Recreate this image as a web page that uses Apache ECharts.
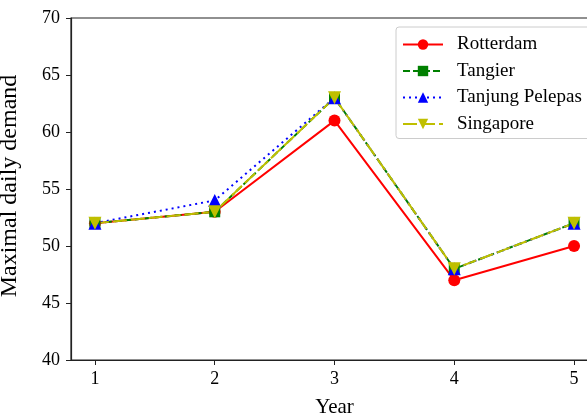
<!DOCTYPE html>
<html><head><meta charset="utf-8">
<script src="https://cdn.jsdelivr.net/npm/echarts@6/dist/echarts.min.js"></script>
<style>html,body{margin:0;padding:0;background:#fff}#c{width:587px;height:416px}</style>
</head><body><div id="c"></div>
<script>
const years = [1, 2, 3, 4, 5];
const rotterdam = [52, 53, 61, 47, 50];
const tangier = [52, 53, 63, 48, 52];
const tanjung = [52, 54, 63, 48, 52];
const singapore = [52, 53, 63, 48, 52];
const yTicks = [40, 45, 50, 55, 60, 65, 70];

const font = 'Liberation Serif, Times New Roman, serif';
const pair = arr => years.map((x, i) => [x, arr[i]]);
const chart = echarts.init(document.getElementById('c'));
chart.setOption({
  animation: false,
  textStyle: {fontFamily: font},
  grid: {left: 71, right: -11, top: 18, bottom: 56, outerBoundsMode: 'none', containLabel: false,
         show: true, borderColor: '#222', borderWidth: 1.2, backgroundColor: 'transparent'},
  legend: {
    left: 396, top: 27, orient: 'vertical', itemWidth: 40, itemHeight: 13, itemGap: 7.5,
    padding: [8, 30, 5, 6], borderColor: '#ccc', borderWidth: 1, borderRadius: 3, backgroundColor: '#fff',
    textStyle: {fontFamily: font, fontSize: 19, color: '#000', padding: [0, 0, 0, 9]},
    data: ['Rotterdam', 'Tangier', 'Tanjung Pelepas', 'Singapore']
  },
  xAxis: {
    type: 'value', min: 0.8, max: 5.2, name: 'Year', nameLocation: 'middle', nameGap: 37,
    nameTextStyle: {fontFamily: font, fontSize: 21, color: '#000'},
    splitLine: {show: false},
    axisLine: {show: true, onZero: false, lineStyle: {color: '#222', width: 1.2}},
    axisTick: {show: true, length: 5, customValues: years, lineStyle: {color: '#222'}},
    axisLabel: {customValues: years, fontFamily: font, fontSize: 18, color: '#000', margin: 10}
  },
  yAxis: {
    type: 'value', min: 40, max: 70, interval: 5, name: 'Maximal daily demand', nameLocation: 'middle', nameGap: 49,
    nameTextStyle: {fontFamily: font, fontSize: 24, color: '#000', padding: [0, 0, 0, 6]},
    splitLine: {show: false},
    axisLine: {show: true, lineStyle: {color: '#222', width: 1.2}},
    axisTick: {show: true, length: 5, lineStyle: {color: '#222'}},
    axisLabel: {fontFamily: font, fontSize: 18, color: '#000', margin: 11}
  },
  series: [
    {name: 'Rotterdam', type: 'line', data: pair(rotterdam), symbol: 'circle', symbolSize: 12,
     itemStyle: {color: '#ff0000'}, lineStyle: {color: '#ff0000', width: 2}},
    {name: 'Tangier', type: 'line', data: pair(tangier), symbol: 'rect', symbolSize: 11,
     itemStyle: {color: '#008000'}, lineStyle: {color: '#008000', width: 2, type: [7, 3]}},
    {name: 'Tanjung Pelepas', type: 'line', data: pair(tanjung), symbol: 'triangle', symbolSize: 13,
     itemStyle: {color: '#0000ff'}, lineStyle: {color: '#0000ff', width: 2, type: [2, 4]}},
    {name: 'Singapore', type: 'line', data: pair(singapore), symbol: 'triangle', symbolRotate: 180, symbolSize: 13,
     itemStyle: {color: '#bfbf00'}, lineStyle: {color: '#bfbf00', width: 2, type: [14, 4]}}
  ]
});
</script></body></html>
